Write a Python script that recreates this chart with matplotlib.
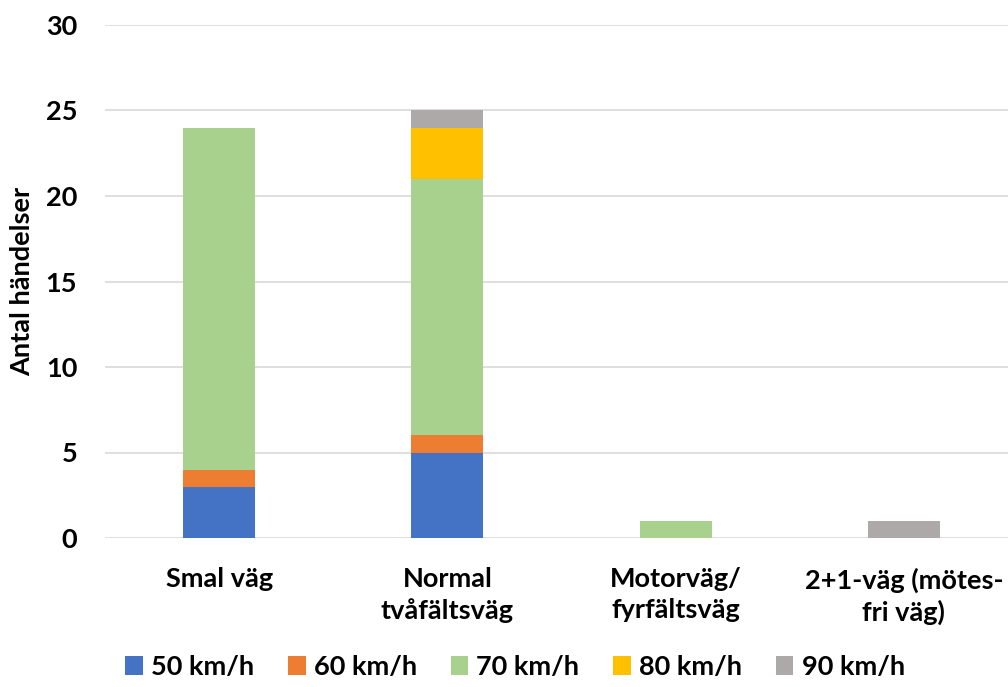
import matplotlib
matplotlib.use("Agg")
import matplotlib.pyplot as plt
import numpy as np

categories = ["Smal väg", "Normal\ntvåfältsväg", "Motorväg/\nfyrfältsväg", "2+1-väg (mötes-\nfri väg)"]
series_names = ["50 km/h", "60 km/h", "70 km/h", "80 km/h", "90 km/h"]
v50 = [3, 5, 0, 0]
v60 = [1, 1, 0, 0]
v70 = [20, 15, 1, 0]
v80 = [0, 3, 0, 0]
v90 = [0, 1, 0, 1]
colors = ["#4472C4", "#ED7D31", "#A9D18E", "#FFC000", "#ADA9A9"]
yticks = [0, 5, 10, 15, 20, 25, 30]

plt.rcParams['font.family'] = ['Lato', 'DejaVu Sans']
plt.rcParams['font.weight'] = 'bold'
FS = 19.5

fig = plt.figure(figsize=(10.08, 6.87), dpi=100)
W, H = 1008, 687
left, right = 105, 1018
top, bottom = 25, 538
ax = fig.add_axes([left / W, 1 - bottom / H, (right - left) / W, (bottom - top) / H])

x = np.arange(len(categories))
bottoms = np.zeros(len(categories))
for name, vals, c in zip(series_names, [v50, v60, v70, v80, v90], colors):
    ax.bar(x, vals, width=0.315, bottom=bottoms, color=c, label=name, zorder=3)
    bottoms += np.array(vals)

ax.set_xlim(-0.5, 3.5)
ax.set_ylim(0, 30)
ax.set_yticks(yticks)
ax.set_yticklabels([str(t) for t in yticks], fontsize=FS, fontweight='bold')
ax.set_xticks(x)
ax.set_xticklabels(categories, fontsize=FS, fontweight='bold', linespacing=1.35)
ax.tick_params(axis='both', length=0)
ax.tick_params(axis='x', pad=21)
ax.tick_params(axis='y', pad=20)
ax.grid(axis='y', color='#D9D9D9', linewidth=1.2, zorder=0)
for s in ax.spines.values():
    s.set_visible(False)
fig.text(22 / W, 1 - 281 / H, "Antal händelser", rotation=90, ha='center', va='center',
         fontsize=FS, fontweight='bold')

fig.legend(loc='center', bbox_to_anchor=(515 / W, 1 - 667 / H), ncol=5, frameon=False,
           handlelength=0.65, handleheight=0.65, handletextpad=0.3, columnspacing=1.25,
           prop={'weight': 'bold', 'size': FS})

fig.savefig("out.png", dpi=100)
